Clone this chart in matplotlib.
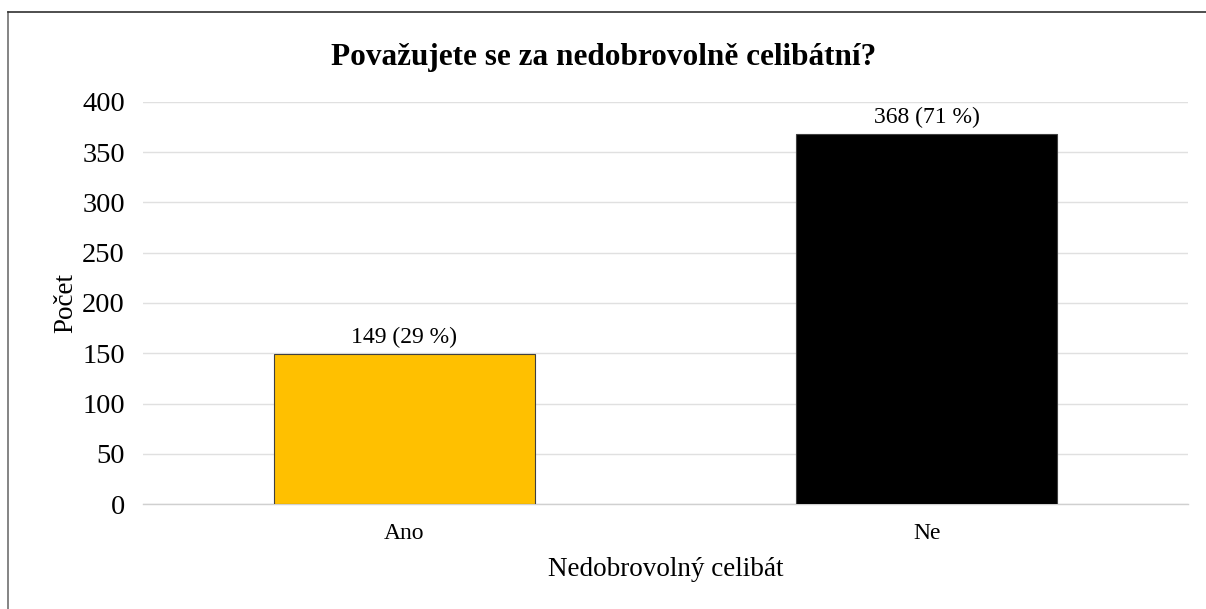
import matplotlib
matplotlib.use("Agg")
import matplotlib.pyplot as plt
from matplotlib.lines import Line2D

categories = ["Ano", "Ne"]
values = [149, 368]
percents = [29, 71]
colors = ["#FFC000", "#000000"]
yticks = [0, 50, 100, 150, 200, 250, 300, 350, 400]

plt.rcParams['font.family'] = ['Liberation Serif', 'DejaVu Serif']

fig = plt.figure(figsize=(12.06, 6.09), dpi=100)
W, H = 1206, 609
ax = fig.add_axes([143 / W, 1 - 504 / H, (1188 - 143) / W, (504 - 102) / H])

x = list(range(len(categories)))
bars = ax.bar(x, values, width=0.5, color=colors, edgecolor="#404040", linewidth=0.8, zorder=3)
for xi, v, p in zip(x, values, percents):
    ax.text(xi, v + 6, f"{v} ({p} %)", ha="center", va="bottom", fontsize=17)

ax.set_xlim(-0.5, 1.5)
ax.set_ylim(0, 400)
ax.set_yticks(yticks)
ax.set_yticklabels([str(t) for t in yticks], fontsize=20.5)
ax.set_xticks(x)
ax.set_xticklabels(categories, fontsize=17)
ax.tick_params(axis="both", length=0)
ax.tick_params(axis="y", pad=13)
ax.tick_params(axis="x", pad=14)
ax.grid(axis="y", color="#E0E0E0", linewidth=1, zorder=0)
for s in ["top", "right", "left"]:
    ax.spines[s].set_visible(False)
ax.spines["bottom"].set_color("#D0D0D0")
ax.spines["bottom"].set_linewidth(1)

ax.set_xlabel("Nedobrovolný celibát", fontsize=19.5, labelpad=9)
ax.set_ylabel("Počet", fontsize=19.5, labelpad=3)
fig.text(603.5 / W, 1 - 58 / H, "Považujete se za nedobrovolně celibátní?",
         ha="center", va="center", fontsize=22.5, fontweight="bold")

# outer border (top and left visible)
fig.add_artist(Line2D([8 / W, 8 / W], [0, 1 - 12 / H], transform=fig.transFigure, color="#707070", linewidth=1.2))
fig.add_artist(Line2D([8 / W, 1], [1 - 12 / H, 1 - 12 / H], transform=fig.transFigure, color="#303030", linewidth=1.2))

fig.savefig("out.png", dpi=100)
